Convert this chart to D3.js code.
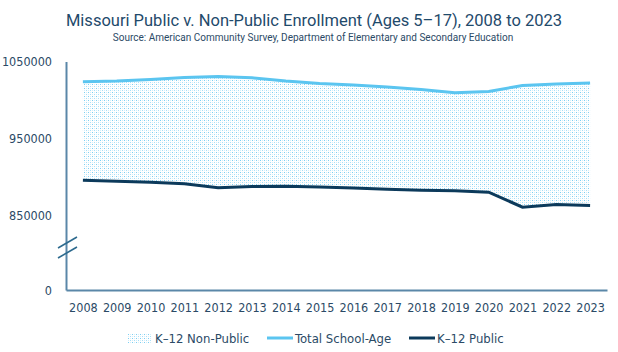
<!DOCTYPE html>
<html>
<head>
<meta charset="utf-8">
<script src="https://cdn.jsdelivr.net/npm/d3@7"></script>
<style>
  body { margin: 0; background: #fff; }
  svg text { font-family: "DejaVu Sans Condensed", sans-serif; fill: #2b4a66; }
</style>
</head>
<body>
<div id="chart"></div>
<script>
// data
const years = ["2008", "2009", "2010", "2011", "2012", "2013", "2014", "2015",
  "2016", "2017", "2018", "2019", "2020", "2021", "2022", "2023"];
const totalSchoolAge = [1023700, 1024700, 1026700, 1029300, 1030600, 1028900, 1024700, 1021500,
  1019600, 1017000, 1013700, 1009500, 1011200, 1018900, 1020900, 1022200];
const k12Public = [895900, 894600, 893300, 891400, 886200, 887800, 888200, 887300,
  886000, 884300, 883000, 882400, 880400, 861000, 864500, 863200];
const yTicks = [0, 850000, 950000, 1050000];
const legendItems = ["K\u201312 Non-Public", "Total School-Age", "K\u201312 Public"];

const rows = years.map((y, i) => ({ year: y, total: totalSchoolAge[i], pub: k12Public[i] }));

const width = 618, height = 352;
const left = 66, right = 607, bottom = 290;

const svg = d3.select("#chart").append("svg")
  .attr("width", width)
  .attr("height", height);

// dotted fill pattern
const defs = svg.append("defs");
const pat = defs.append("pattern")
  .attr("id", "dots")
  .attr("patternUnits", "userSpaceOnUse")
  .attr("width", 4)
  .attr("height", 4);
pat.append("rect").attr("width", 4).attr("height", 4).attr("fill", "#ffffff");
const dots = [
  [0, 0, "#7ccff3"], [2, 2, "#a9dff7"],
  [2, 0, "#d3effb"], [0, 2, "#d3effb"]
];
dots.forEach(([dx, dy, c]) => {
  pat.append("rect").attr("x", dx).attr("y", dy).attr("width", 1).attr("height", 1).attr("fill", c);
});

// scales (broken axis between 0 and 760000)
const x = d3.scalePoint()
  .domain(years)
  .range([left, right])
  .padding(0.5);

const y = d3.scaleLinear()
  .domain([0, 760000, 1050000])
  .range([bottom, 285, 61.5]);

// title
svg.append("text")
  .attr("x", 314)
  .attr("y", 26)
  .attr("text-anchor", "middle")
  .style("font-family", "Roboto, sans-serif")
  .style("font-size", "16.5px")
  .style("fill", "#1f4a6b")
  .text("Missouri Public v. Non-Public Enrollment (Ages 5\u201317), 2008 to 2023");

svg.append("text")
  .attr("x", 313)
  .attr("y", 41)
  .attr("text-anchor", "middle")
  .style("font-family", "Roboto, sans-serif")
  .style("font-size", "10px")
  .text("Source: American Community Survey, Department of Elementary and Secondary Education");

// area between the two lines = non-public
const area = d3.area()
  .x(d => x(d.year))
  .y0(d => y(d.pub))
  .y1(d => y(d.total));

svg.append("path")
  .datum(rows)
  .attr("d", area)
  .attr("fill", "url(#dots)");

const lineTotal = d3.line().x(d => x(d.year)).y(d => y(d.total));
const linePub = d3.line().x(d => x(d.year)).y(d => y(d.pub));

svg.append("path")
  .datum(rows)
  .attr("d", lineTotal)
  .attr("fill", "none")
  .attr("stroke", "#5bc5f0")
  .attr("stroke-width", 3);

svg.append("path")
  .datum(rows)
  .attr("d", linePub)
  .attr("fill", "none")
  .attr("stroke", "#0c3a5b")
  .attr("stroke-width", 3);

// axes
const axisColor = "#5a87a8";

const yAxis = svg.append("g")
  .attr("transform", `translate(${left},0)`)
  .call(d3.axisLeft(y).tickValues(yTicks).tickSize(0).tickPadding(14).tickFormat(d3.format("d")));
yAxis.select(".domain").attr("stroke", axisColor).attr("stroke-width", 2);
yAxis.selectAll("text").style("font-size", "12.5px").style("fill", "#2b4a66");

const xAxis = svg.append("g")
  .attr("transform", `translate(0,${bottom})`)
  .call(d3.axisBottom(x).tickSize(0).tickPadding(13));
xAxis.select(".domain").attr("stroke", axisColor).attr("stroke-width", 2);
xAxis.selectAll("text").style("font-size", "12.5px").style("fill", "#2b4a66");

// break marks on y axis
[0, 10].forEach(off => {
  svg.append("line")
    .attr("x1", 58).attr("y1", 248 + off)
    .attr("x2", 77).attr("y2", 237 + off)
    .attr("stroke", "#2d6a8e")
    .attr("stroke-width", 1.6);
});

// legend
const legend = svg.append("g").attr("transform", "translate(0,338)");
const legendX = [127, 267, 409];

legend.append("rect")
  .attr("x", legendX[0]).attr("y", -5)
  .attr("width", 24).attr("height", 10)
  .attr("fill", "url(#dots)");

legend.append("line")
  .attr("x1", legendX[1]).attr("x2", legendX[1] + 26)
  .attr("stroke", "#5bc5f0").attr("stroke-width", 3);

legend.append("line")
  .attr("x1", legendX[2]).attr("x2", legendX[2] + 26)
  .attr("stroke", "#0c3a5b").attr("stroke-width", 3);

legend.selectAll("text.lg")
  .data(legendItems)
  .enter()
  .append("text")
  .attr("class", "lg")
  .attr("x", (d, i) => legendX[i] + 28)
  .attr("y", 0)
  .attr("dy", "0.35em")
  .style("font-size", "13px")
  .text(d => d);
</script>
</body>
</html>
